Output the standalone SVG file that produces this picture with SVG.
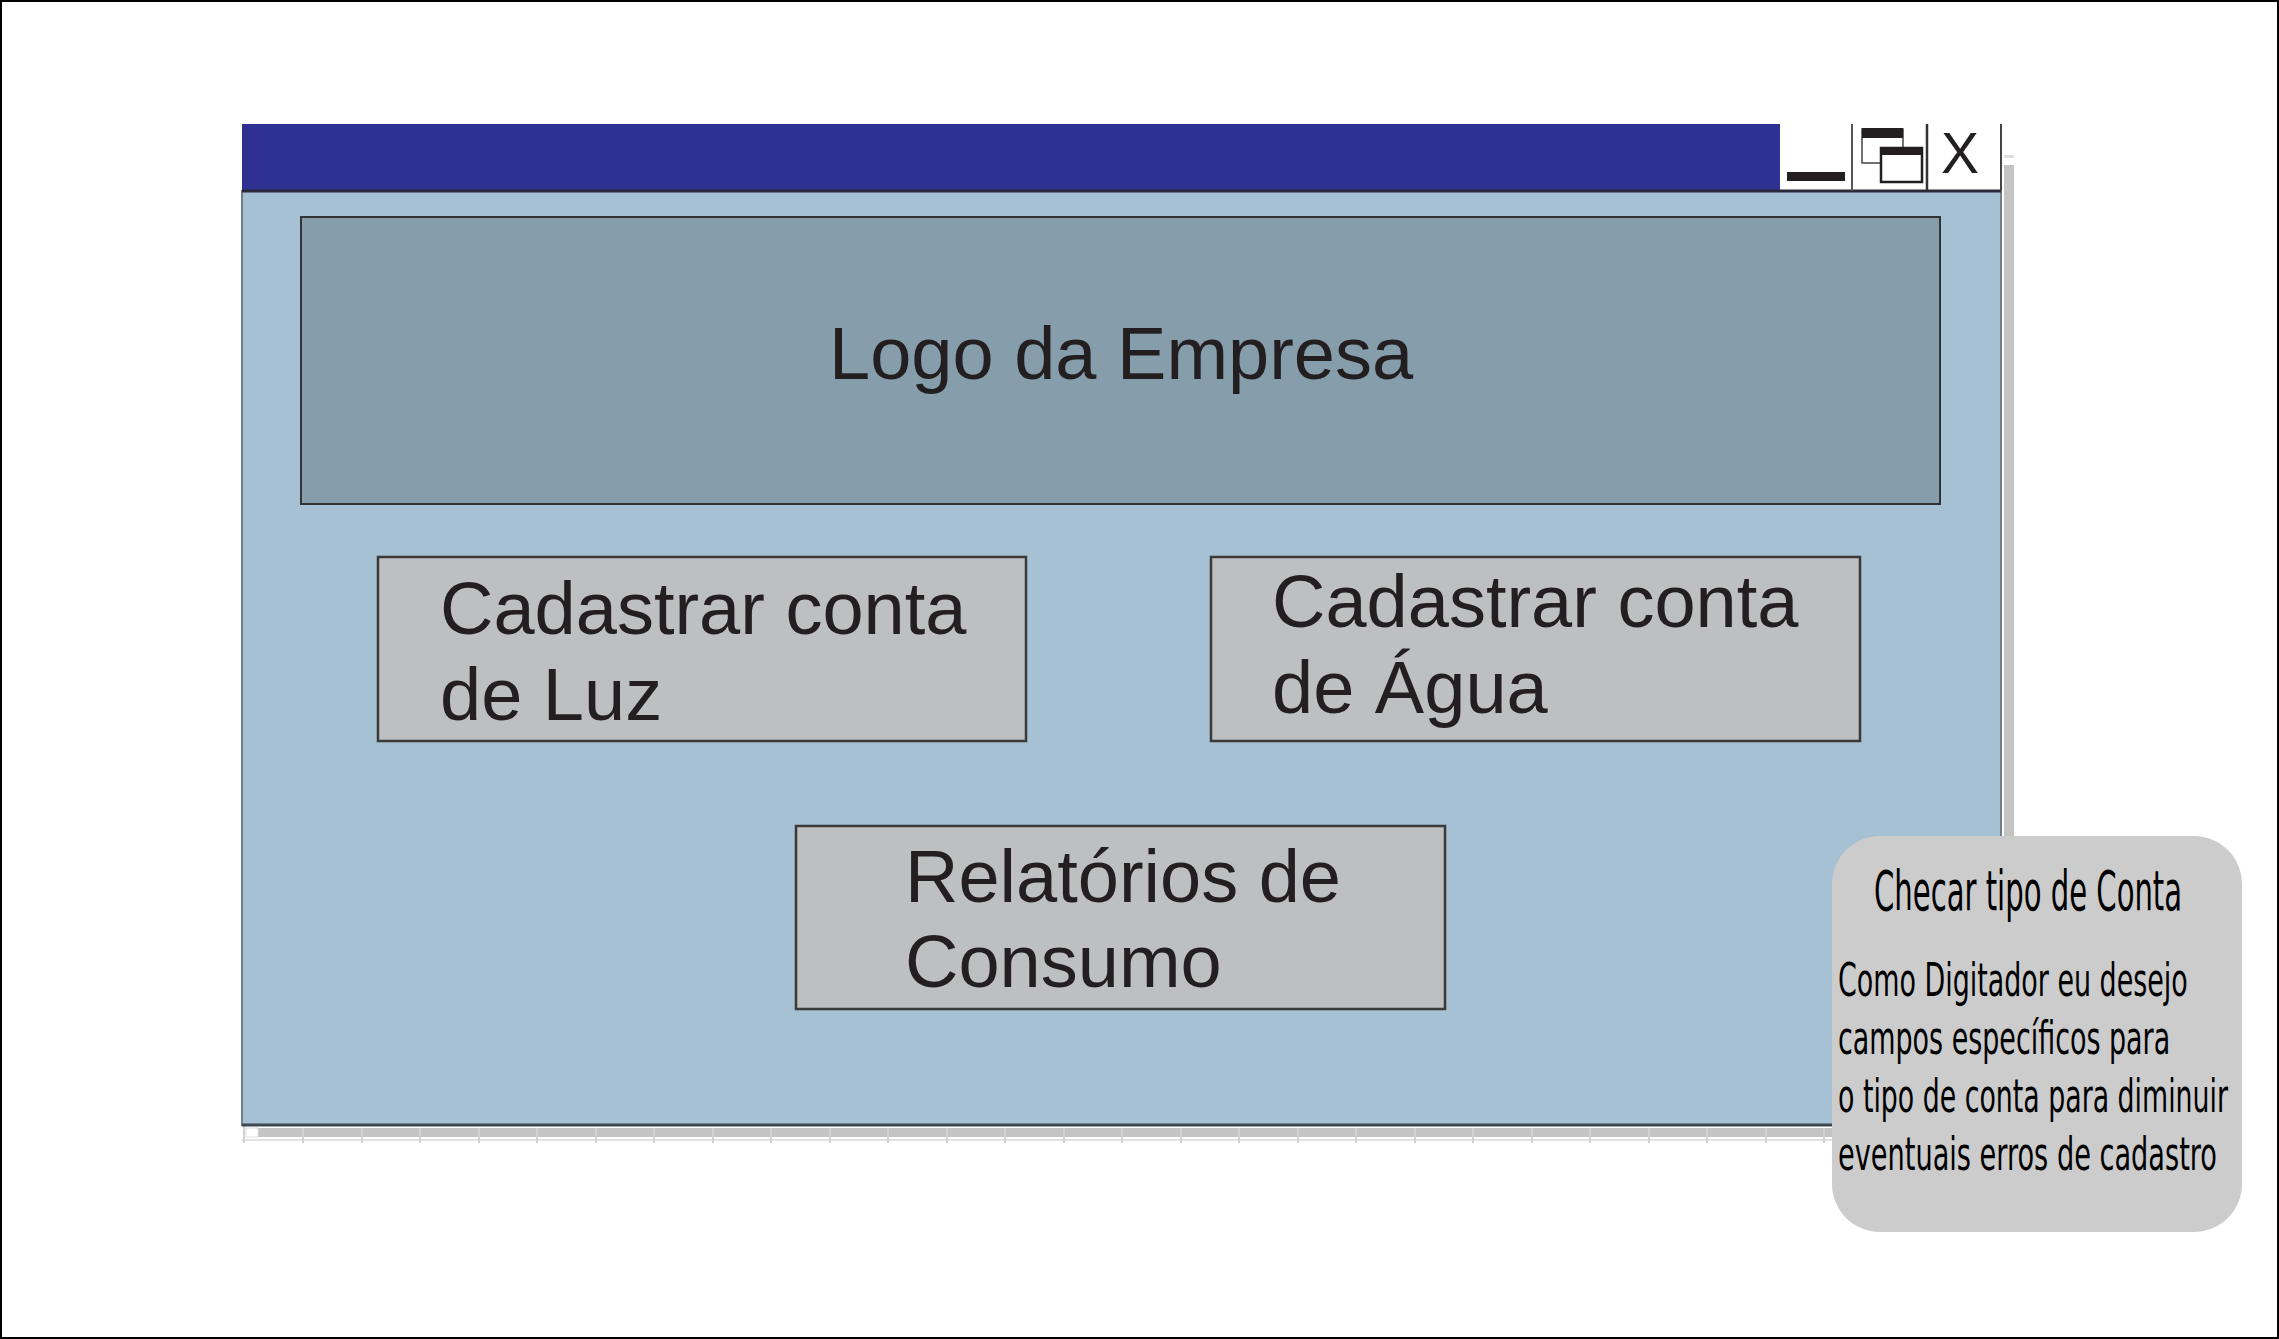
<svg xmlns="http://www.w3.org/2000/svg" width="2279" height="1339" viewBox="0 0 2279 1339">
<style>
.btn{fill:#bebfc1;stroke:#3a3a3a;stroke-width:2.5}
.big{font-family:"Liberation Sans",Arial,sans-serif;font-size:74px;fill:#231f20}
.note{font-family:"DejaVu Sans Condensed","DejaVu Sans",sans-serif;fill:#000}
.tick{stroke:#d2d2d2;stroke-width:2}
</style>
<rect x="0" y="0" width="2279" height="1339" fill="#ffffff" stroke="#000" stroke-width="4"/>
<g id="window">
  <rect x="2004" y="165" width="10" height="972" fill="#c4c4c4"/>
  <rect x="2004" y="155" width="10" height="3" fill="#dedede"/>
  <rect x="258" y="1128" width="1756" height="9" fill="#c4c4c4"/>
  <rect x="246" y="1128" width="12" height="9" fill="#ffffff" stroke="#e0e0e0" stroke-width="1"/>
  <line x1="242" y1="1140" x2="2014" y2="1140" stroke="#e2e2e2" stroke-width="2"/>
  <g class="tick">
    <line x1="244" y1="1126" x2="244" y2="1143"/><line x1="303" y1="1128" x2="303" y2="1143"/><line x1="362" y1="1128" x2="362" y2="1143"/><line x1="420" y1="1128" x2="420" y2="1143"/><line x1="479" y1="1128" x2="479" y2="1143"/><line x1="537" y1="1128" x2="537" y2="1143"/><line x1="596" y1="1128" x2="596" y2="1143"/><line x1="654" y1="1128" x2="654" y2="1143"/><line x1="713" y1="1128" x2="713" y2="1143"/><line x1="771" y1="1128" x2="771" y2="1143"/><line x1="830" y1="1128" x2="830" y2="1143"/><line x1="888" y1="1128" x2="888" y2="1143"/><line x1="947" y1="1128" x2="947" y2="1143"/><line x1="1005" y1="1128" x2="1005" y2="1143"/><line x1="1064" y1="1128" x2="1064" y2="1143"/><line x1="1122" y1="1128" x2="1122" y2="1143"/><line x1="1181" y1="1128" x2="1181" y2="1143"/><line x1="1239" y1="1128" x2="1239" y2="1143"/><line x1="1298" y1="1128" x2="1298" y2="1143"/><line x1="1356" y1="1128" x2="1356" y2="1143"/><line x1="1415" y1="1128" x2="1415" y2="1143"/><line x1="1473" y1="1128" x2="1473" y2="1143"/><line x1="1532" y1="1128" x2="1532" y2="1143"/><line x1="1590" y1="1128" x2="1590" y2="1143"/><line x1="1649" y1="1128" x2="1649" y2="1143"/><line x1="1707" y1="1128" x2="1707" y2="1143"/><line x1="1766" y1="1128" x2="1766" y2="1143"/><line x1="1824" y1="1128" x2="1824" y2="1143"/>
  </g>
  <rect x="242" y="191" width="1759" height="934" fill="#a6c1d3" stroke="#6f808b" stroke-width="2"/>
  <line x1="242" y1="1125" x2="2001" y2="1125" stroke="#3d4850" stroke-width="3"/>
  <rect x="242" y="124" width="1538" height="67" fill="#2e3192"/>
  <rect x="1780" y="124" width="221" height="67" fill="#ffffff"/>
  <line x1="242" y1="191" x2="2001" y2="191" stroke="#2a2a3a" stroke-width="3"/>
  <line x1="1852" y1="124" x2="1852" y2="191" stroke="#555" stroke-width="2"/>
  <line x1="1927" y1="124" x2="1927" y2="191" stroke="#333" stroke-width="2.5"/>
  <line x1="2001" y1="124" x2="2001" y2="191" stroke="#444" stroke-width="2"/>
  <rect x="1787" y="172" width="58" height="9" fill="#231f20"/>
  <rect x="1862" y="129" width="41" height="34" fill="none" stroke="#444" stroke-width="1.5"/>
  <rect x="1862" y="128" width="41" height="10" fill="#231f20"/>
  <rect x="1881" y="148" width="41" height="34" fill="#ffffff" stroke="#231f20" stroke-width="2.5"/>
  <rect x="1881" y="147" width="41" height="8" fill="#231f20"/>
  <text x="1960" y="173" text-anchor="middle" style="font-family:'Liberation Sans',Arial,sans-serif;font-size:57px;fill:#231f20">X</text>
</g>
<g id="logo">
  <rect x="301" y="217" width="1639" height="287" fill="#869dab" stroke="#333" stroke-width="2"/>
  <text class="big" x="829" y="379">Logo da Empresa</text>
</g>
<g id="btn-luz">
  <rect class="btn" x="378" y="557" width="648" height="184"/>
  <text class="big" x="440" y="634">Cadastrar conta</text>
  <text class="big" x="440" y="720">de Luz</text>
</g>
<g id="btn-agua">
  <rect class="btn" x="1211" y="557" width="649" height="184"/>
  <text class="big" x="1272" y="627">Cadastrar conta</text>
  <text class="big" x="1272" y="713">de Água</text>
</g>
<g id="btn-relatorios">
  <rect class="btn" x="796" y="826" width="649" height="183"/>
  <text class="big" x="905" y="902">Relatórios de</text>
  <text class="big" x="905" y="987">Consumo</text>
</g>
<g id="connectors"/>
<g id="note">
  <rect x="1832" y="836" width="410" height="396" rx="48" ry="48" fill="#cccccc"/>
  <text class="note" transform="translate(1874,910) scale(0.65,1)" x="0" y="0" font-size="55" textLength="474" lengthAdjust="spacingAndGlyphs">Checar tipo de Conta</text>
  <text class="note" transform="translate(1838,996) scale(0.65,1)" x="0" y="0" font-size="46" textLength="538" lengthAdjust="spacingAndGlyphs">Como Digitador eu desejo</text>
  <text class="note" transform="translate(1838,1054) scale(0.65,1)" x="0" y="0" font-size="46" textLength="511" lengthAdjust="spacingAndGlyphs">campos específicos para</text>
  <text class="note" transform="translate(1838,1112) scale(0.65,1)" x="0" y="0" font-size="46" textLength="600" lengthAdjust="spacingAndGlyphs">o tipo de conta para diminuir</text>
  <text class="note" transform="translate(1838,1170) scale(0.65,1)" x="0" y="0" font-size="46" textLength="583" lengthAdjust="spacingAndGlyphs">eventuais erros de cadastro</text>
</g>
</svg>
